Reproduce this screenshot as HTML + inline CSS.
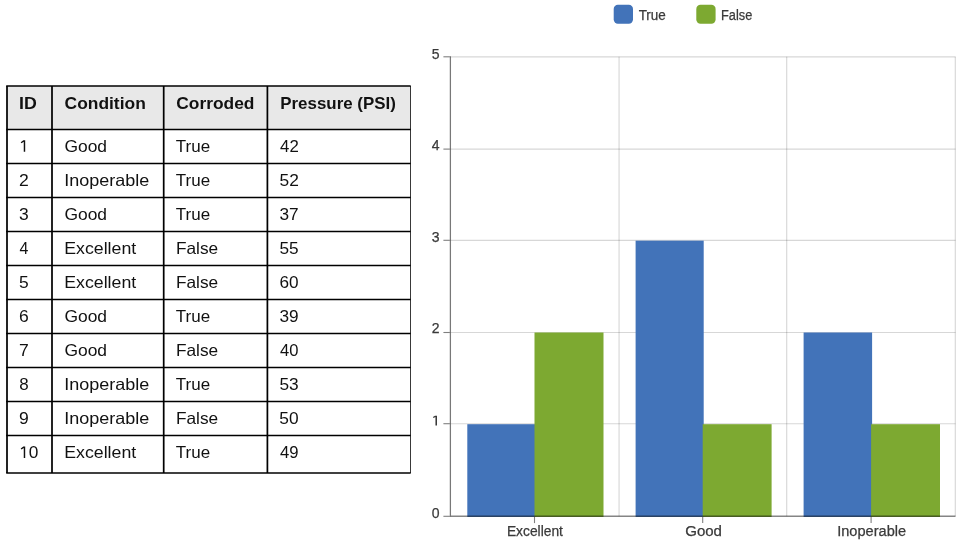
<!DOCTYPE html><html><head><meta charset="utf-8"><title>Chart</title><style>html,body{margin:0;padding:0;background:#fff;}svg{display:block;will-change:transform;}text{font-family:"Liberation Sans",sans-serif;}</style></head><body>
<svg width="967" height="540" viewBox="0 0 967 540">
<rect width="967" height="540" fill="#fff"/>
<rect x="7" y="86" width="403.5" height="43.5" fill="#e8e8e8"/>
<g stroke="#000" stroke-width="1.72" fill="none">
<line x1="6.2" y1="86" x2="410.7" y2="86"/>
<line x1="6.2" y1="129.5" x2="410.7" y2="129.5"/>
<line x1="6.2" y1="163.5" x2="410.7" y2="163.5"/>
<line x1="6.2" y1="197.5" x2="410.7" y2="197.5"/>
<line x1="6.2" y1="231.5" x2="410.7" y2="231.5"/>
<line x1="6.2" y1="265.5" x2="410.7" y2="265.5"/>
<line x1="6.2" y1="299.5" x2="410.7" y2="299.5"/>
<line x1="6.2" y1="333.5" x2="410.7" y2="333.5"/>
<line x1="6.2" y1="367.5" x2="410.7" y2="367.5"/>
<line x1="6.2" y1="401.5" x2="410.7" y2="401.5"/>
<line x1="6.2" y1="435.5" x2="410.7" y2="435.5"/>
<line x1="6.2" y1="473" x2="410.7" y2="473"/>
<line x1="7" y1="86" x2="7" y2="473"/>
<line x1="52.0" y1="86" x2="52.0" y2="473"/>
<line x1="163.7" y1="86" x2="163.7" y2="473"/>
<line x1="267.4" y1="86" x2="267.4" y2="473"/>
</g>
<line x1="410.5" y1="86" x2="410.5" y2="473" stroke="#000" stroke-width="0.78"/>
<g font-size="16.5" font-weight="bold" fill="#111">
<text x="19.11" y="109" textLength="17.78" lengthAdjust="spacingAndGlyphs">ID</text>
<text x="64.58" y="109" textLength="81.19" lengthAdjust="spacingAndGlyphs">Condition</text>
<text x="176.26" y="109" textLength="78.20" lengthAdjust="spacingAndGlyphs">Corroded</text>
<text x="280.25" y="109" textLength="115.60" lengthAdjust="spacingAndGlyphs">Pressure (PSI)</text>
</g>
<g font-size="16.5" fill="#111">
<polygon points="20.69,142.18 23.36,140.25 25.20,140.25 25.20,151.70 23.75,151.70 23.75,141.69 21.51,143.32" fill="#111"/>
<text x="64.43" y="151.70" textLength="42.64" lengthAdjust="spacingAndGlyphs">Good</text>
<text x="175.84" y="151.70" textLength="34.34" lengthAdjust="spacingAndGlyphs">True</text>
<text x="280.06" y="151.70" textLength="18.69" lengthAdjust="spacingAndGlyphs">42</text>
<text x="19.10" y="185.70" textLength="9.79" lengthAdjust="spacingAndGlyphs">2</text>
<text x="64.17" y="185.70" textLength="85.05" lengthAdjust="spacingAndGlyphs">Inoperable</text>
<text x="175.84" y="185.70" textLength="34.34" lengthAdjust="spacingAndGlyphs">True</text>
<text x="279.51" y="185.70" textLength="19.31" lengthAdjust="spacingAndGlyphs">52</text>
<text x="19.13" y="219.70" textLength="9.72" lengthAdjust="spacingAndGlyphs">3</text>
<text x="64.43" y="219.70" textLength="42.64" lengthAdjust="spacingAndGlyphs">Good</text>
<text x="175.84" y="219.70" textLength="34.34" lengthAdjust="spacingAndGlyphs">True</text>
<text x="279.54" y="219.70" textLength="19.18" lengthAdjust="spacingAndGlyphs">37</text>
<text x="19.60" y="253.70" textLength="8.88" lengthAdjust="spacingAndGlyphs">4</text>
<text x="64.24" y="253.70" textLength="71.96" lengthAdjust="spacingAndGlyphs">Excellent</text>
<text x="175.92" y="253.70" textLength="42.23" lengthAdjust="spacingAndGlyphs">False</text>
<text x="279.49" y="253.70" textLength="19.16" lengthAdjust="spacingAndGlyphs">55</text>
<text x="19.11" y="287.70" textLength="9.70" lengthAdjust="spacingAndGlyphs">5</text>
<text x="64.24" y="287.70" textLength="71.96" lengthAdjust="spacingAndGlyphs">Excellent</text>
<text x="175.92" y="287.70" textLength="42.23" lengthAdjust="spacingAndGlyphs">False</text>
<text x="279.54" y="287.70" textLength="19.12" lengthAdjust="spacingAndGlyphs">60</text>
<text x="19.10" y="321.70" textLength="9.75" lengthAdjust="spacingAndGlyphs">6</text>
<text x="64.43" y="321.70" textLength="42.64" lengthAdjust="spacingAndGlyphs">Good</text>
<text x="175.84" y="321.70" textLength="34.34" lengthAdjust="spacingAndGlyphs">True</text>
<text x="279.55" y="321.70" textLength="19.16" lengthAdjust="spacingAndGlyphs">39</text>
<text x="19.04" y="355.70" textLength="9.79" lengthAdjust="spacingAndGlyphs">7</text>
<text x="64.43" y="355.70" textLength="42.64" lengthAdjust="spacingAndGlyphs">Good</text>
<text x="175.92" y="355.70" textLength="42.23" lengthAdjust="spacingAndGlyphs">False</text>
<text x="280.10" y="355.70" textLength="18.44" lengthAdjust="spacingAndGlyphs">40</text>
<text x="19.37" y="389.70" textLength="9.44" lengthAdjust="spacingAndGlyphs">8</text>
<text x="64.17" y="389.70" textLength="85.05" lengthAdjust="spacingAndGlyphs">Inoperable</text>
<text x="175.84" y="389.70" textLength="34.34" lengthAdjust="spacingAndGlyphs">True</text>
<text x="279.45" y="389.70" textLength="19.23" lengthAdjust="spacingAndGlyphs">53</text>
<text x="19.02" y="423.70" textLength="9.78" lengthAdjust="spacingAndGlyphs">9</text>
<text x="64.17" y="423.70" textLength="85.05" lengthAdjust="spacingAndGlyphs">Inoperable</text>
<text x="175.92" y="423.70" textLength="42.23" lengthAdjust="spacingAndGlyphs">False</text>
<text x="279.33" y="423.70" textLength="19.28" lengthAdjust="spacingAndGlyphs">50</text>
<polygon points="20.69,448.48 23.36,446.55 25.20,446.55 25.20,458.00 23.75,458.00 23.75,447.99 21.51,449.62" fill="#111"/>
<text x="28.75" y="458.30" textLength="9.63" lengthAdjust="spacingAndGlyphs">0</text>
<text x="64.24" y="458.30" textLength="71.96" lengthAdjust="spacingAndGlyphs">Excellent</text>
<text x="175.84" y="458.30" textLength="34.34" lengthAdjust="spacingAndGlyphs">True</text>
<text x="280.06" y="458.30" textLength="18.58" lengthAdjust="spacingAndGlyphs">49</text>
</g>
<g stroke="#000" stroke-opacity="0.155" stroke-width="1.15" fill="none">
<line x1="450.4" y1="423.70" x2="955.5" y2="423.70"/>
<line x1="450.4" y1="332.50" x2="955.5" y2="332.50"/>
<line x1="450.4" y1="240.30" x2="955.5" y2="240.30"/>
<line x1="450.4" y1="149.10" x2="955.5" y2="149.10"/>
<line x1="450.4" y1="56.80" x2="955.5" y2="56.80"/>
<line x1="619.07" y1="56.8" x2="619.07" y2="516.3"/>
<line x1="786.70" y1="56.8" x2="786.70" y2="516.3"/>
<line x1="955.30" y1="56.8" x2="955.30" y2="516.3"/>
</g>
<rect x="467.30" y="424.20" width="68.20" height="92.70" fill="#4273b9"/>
<rect x="534.50" y="332.50" width="69.00" height="184.40" fill="#7da931"/>
<rect x="635.60" y="240.65" width="68.10" height="276.25" fill="#4273b9"/>
<rect x="702.70" y="424.20" width="68.90" height="92.70" fill="#7da931"/>
<rect x="803.60" y="332.50" width="68.50" height="184.40" fill="#4273b9"/>
<rect x="871.10" y="424.20" width="68.90" height="92.70" fill="#7da931"/>
<line x1="450.4" y1="56.199999999999996" x2="450.4" y2="517.0" stroke="#000" stroke-opacity="0.53" stroke-width="1.25"/>
<line x1="451.0" y1="516.25" x2="955.5" y2="516.25" stroke="#000" stroke-opacity="0.48" stroke-width="1.5"/>
<g stroke="#000" stroke-opacity="0.5" stroke-width="1.1" fill="none">
<line x1="443.4" y1="516.30" x2="449.79999999999995" y2="516.30"/>
<line x1="443.4" y1="423.70" x2="449.79999999999995" y2="423.70"/>
<line x1="443.4" y1="332.50" x2="449.79999999999995" y2="332.50"/>
<line x1="443.4" y1="240.30" x2="449.79999999999995" y2="240.30"/>
<line x1="443.4" y1="149.10" x2="449.79999999999995" y2="149.10"/>
<line x1="443.4" y1="56.80" x2="449.79999999999995" y2="56.80"/>
<line x1="534.50" y1="516.9" x2="534.50" y2="523.0999999999999"/>
<line x1="702.70" y1="516.9" x2="702.70" y2="523.0999999999999"/>
<line x1="871.10" y1="516.9" x2="871.10" y2="523.0999999999999"/>
</g>
<g font-size="14" fill="#3a3a3a" stroke="#3a3a3a" stroke-width="0.25">
<text x="439.6" y="517.70" text-anchor="end">0</text>
<polygon points="432.91,416.92 434.97,415.70 437.00,415.70 437.00,425.60 435.45,425.60 435.45,416.99 433.59,418.08" fill="#3a3a3a" stroke="none"/>
<text x="439.6" y="333.10" text-anchor="end">2</text>
<text x="439.6" y="241.80" text-anchor="end">3</text>
<text x="439.6" y="149.70" text-anchor="end">4</text>
<text x="439.6" y="58.60" text-anchor="end">5</text>
<text x="506.88" y="535.75" textLength="56.08" lengthAdjust="spacingAndGlyphs">Excellent</text>
<text x="685.20" y="535.75" textLength="36.78" lengthAdjust="spacingAndGlyphs">Good</text>
<text x="837.19" y="535.75" textLength="68.91" lengthAdjust="spacingAndGlyphs">Inoperable</text>
<text x="638.63" y="19.8" textLength="27.20" lengthAdjust="spacingAndGlyphs">True</text>
<text x="721.03" y="19.8" textLength="31.24" lengthAdjust="spacingAndGlyphs">False</text>
</g>
<rect x="613.7" y="4.8" width="19.3" height="19" rx="4.2" fill="#4273b9"/>
<rect x="696.3" y="4.8" width="19.3" height="19" rx="4.2" fill="#7da931"/>
</svg></body></html>
